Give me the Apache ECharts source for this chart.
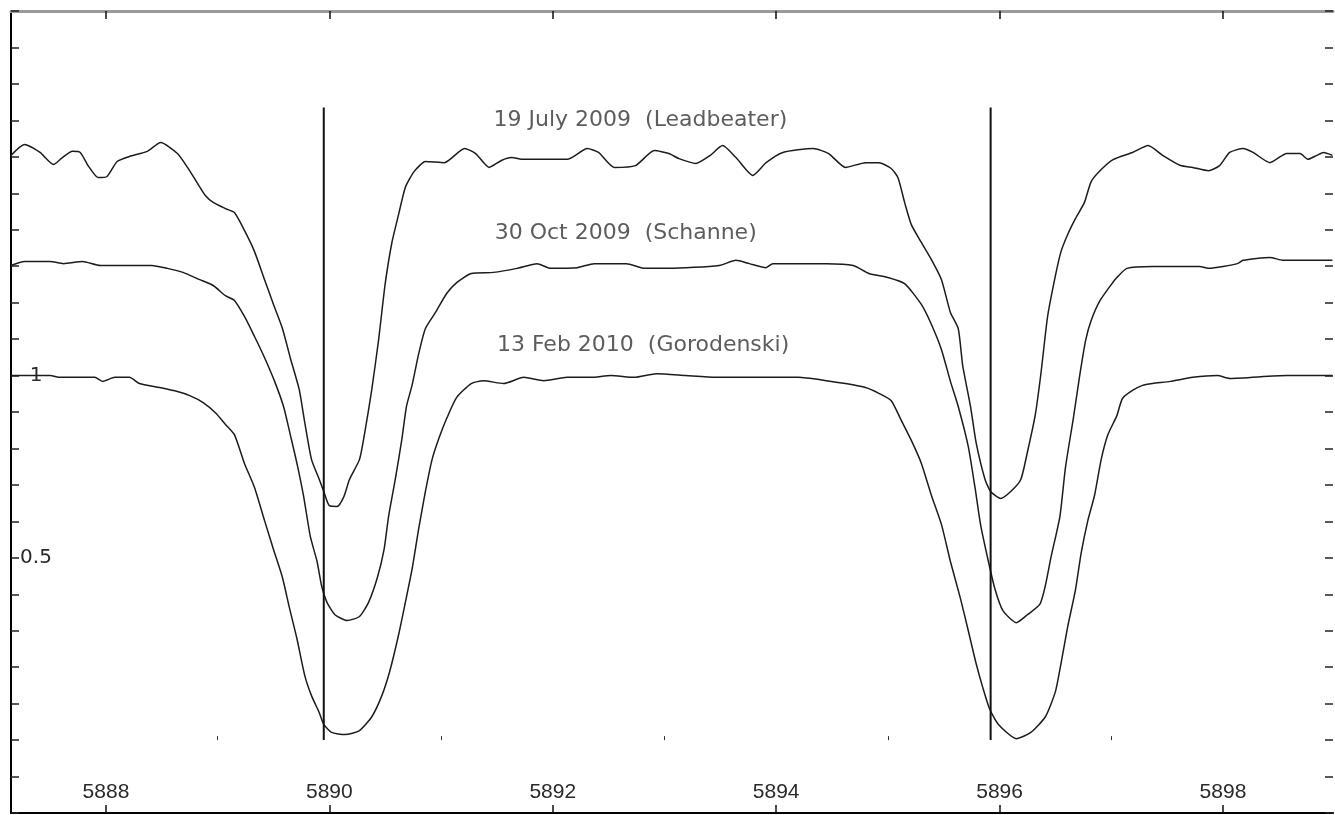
<!DOCTYPE html>
<html>
<head>
<meta charset="utf-8">
<script src="https://cdn.jsdelivr.net/npm/echarts@6/dist/echarts.min.js"></script>
<style>
  html, body { margin: 0; padding: 0; background: #ffffff; }
  #chart { width: 1335px; height: 815px; }
</style>
</head>
<body>
<div id="chart"></div>
<script>
// Sodium D doublet profiles at three epochs (relative flux, stacked 0.3 apart)

// 19 July 2009 (Leadbeater)
const leadWl = [5887.15,5887.27,5887.41,5887.53,5887.61,5887.70,5887.77,5887.84,5887.93,5888.01,
  5888.10,5888.21,5888.37,5888.49,5888.64,5888.73,5888.81,5888.89,5888.96,5889.07,
  5889.15,5889.24,5889.33,5889.42,5889.50,5889.58,5889.65,5889.73,5889.78,5889.84,
  5889.91,5889.95,5890.00,5890.07,5890.13,5890.18,5890.27,5890.32,5890.38,5890.44,
  5890.50,5890.56,5890.62,5890.68,5890.76,5890.86,5891.03,5891.21,5891.31,5891.43,
  5891.54,5891.63,5891.74,5892.13,5892.31,5892.41,5892.55,5892.74,5892.91,5893.04,
  5893.13,5893.28,5893.41,5893.52,5893.64,5893.79,5893.91,5894.06,5894.33,5894.47,
  5894.62,5894.80,5894.92,5895.03,5895.09,5895.15,5895.21,5895.30,5895.39,5895.48,
  5895.56,5895.63,5895.67,5895.74,5895.79,5895.87,5895.92,5896.01,5896.10,5896.19,
  5896.25,5896.32,5896.37,5896.43,5896.50,5896.55,5896.61,5896.68,5896.76,5896.82,
  5896.91,5897.02,5897.19,5897.33,5897.46,5897.62,5897.73,5897.87,5897.97,5898.06,
  5898.18,5898.27,5898.42,5898.57,5898.69,5898.76,5898.84,5898.90,5898.98];
const leadFlux = [1.604,1.634,1.612,1.579,1.598,1.615,1.612,1.576,1.543,1.546,
  1.587,1.601,1.615,1.639,1.609,1.571,1.532,1.494,1.475,1.458,
  1.447,1.398,1.340,1.263,1.195,1.129,1.049,0.962,0.871,0.770,
  0.715,0.682,0.643,0.641,0.668,0.715,0.770,0.849,0.962,1.096,
  1.252,1.365,1.442,1.516,1.560,1.587,1.584,1.623,1.609,1.571,
  1.590,1.598,1.593,1.593,1.623,1.612,1.571,1.576,1.617,1.609,
  1.595,1.582,1.604,1.631,1.598,1.549,1.584,1.612,1.623,1.609,
  1.571,1.584,1.584,1.568,1.543,1.475,1.414,1.365,1.318,1.263,
  1.173,1.129,1.027,0.915,0.816,0.715,0.682,0.663,0.682,0.715,
  0.791,0.893,1.005,1.162,1.274,1.340,1.387,1.431,1.475,1.532,
  1.565,1.593,1.612,1.631,1.604,1.576,1.571,1.562,1.576,1.612,
  1.623,1.612,1.584,1.609,1.609,1.593,1.604,1.612,1.604];

// 30 Oct 2009 (Schanne)
const schWl = [5887.15,5887.27,5887.50,5887.62,5887.79,5887.95,5888.41,5888.55,5888.69,5888.84,
  5888.96,5889.07,5889.15,5889.24,5889.33,5889.42,5889.51,5889.59,5889.65,5889.71,
  5889.77,5889.83,5889.89,5889.93,5889.98,5890.05,5890.16,5890.27,5890.35,5890.43,
  5890.49,5890.53,5890.59,5890.65,5890.69,5890.74,5890.80,5890.86,5890.95,5891.05,
  5891.14,5891.27,5891.47,5891.68,5891.86,5891.98,5892.22,5892.37,5892.66,5892.82,
  5893.04,5893.49,5893.64,5893.76,5893.91,5893.97,5894.45,5894.69,5894.83,5895.00,
  5895.15,5895.30,5895.39,5895.48,5895.56,5895.63,5895.72,5895.78,5895.83,5895.90,
  5895.96,5896.03,5896.15,5896.25,5896.36,5896.41,5896.46,5896.54,5896.59,5896.66,
  5896.72,5896.77,5896.82,5896.90,5897.02,5897.05,5897.14,5897.37,5897.79,5897.88,
  5898.00,5898.13,5898.18,5898.42,5898.54,5898.98];
const schFlux = [1.302,1.313,1.313,1.307,1.313,1.302,1.302,1.294,1.283,1.263,
  1.247,1.219,1.206,1.162,1.107,1.049,0.984,0.915,0.838,0.759,
  0.668,0.558,0.490,0.424,0.377,0.344,0.328,0.339,0.377,0.446,
  0.523,0.613,0.715,0.827,0.915,0.973,1.060,1.129,1.173,1.225,
  1.255,1.280,1.283,1.294,1.307,1.294,1.296,1.307,1.307,1.294,
  1.294,1.302,1.316,1.307,1.296,1.307,1.307,1.302,1.280,1.269,
  1.252,1.195,1.140,1.071,0.984,0.915,0.805,0.693,0.591,0.490,
  0.413,0.355,0.322,0.344,0.372,0.424,0.501,0.613,0.748,0.882,
  1.005,1.096,1.151,1.206,1.258,1.269,1.294,1.299,1.299,1.294,
  1.299,1.307,1.316,1.324,1.316,1.316];

// 13 Feb 2010 (Gorodenski)
const gorWl = [5887.15,5887.50,5887.59,5887.90,5887.97,5888.08,5888.21,5888.30,5888.48,5888.64,
  5888.75,5888.87,5888.98,5889.07,5889.15,5889.24,5889.33,5889.42,5889.50,5889.58,
  5889.64,5889.71,5889.78,5889.84,5889.91,5889.95,5890.02,5890.14,5890.27,5890.38,
  5890.47,5890.54,5890.62,5890.68,5890.74,5890.80,5890.86,5890.92,5890.98,5891.05,
  5891.14,5891.27,5891.38,5891.56,5891.74,5891.92,5892.13,5892.34,5892.52,5892.73,
  5892.93,5893.19,5893.46,5894.20,5894.45,5894.62,5894.80,5894.92,5895.03,5895.12,
  5895.21,5895.30,5895.39,5895.48,5895.56,5895.65,5895.72,5895.79,5895.85,5895.91,
  5895.99,5896.15,5896.28,5896.41,5896.50,5896.55,5896.61,5896.68,5896.73,5896.79,
  5896.85,5896.91,5896.97,5897.05,5897.10,5897.19,5897.28,5897.37,5897.53,5897.73,
  5897.95,5898.06,5898.57,5898.98];
const gorFlux = [1.000,1.000,0.995,0.995,0.984,0.995,0.995,0.978,0.967,0.956,
  0.945,0.926,0.898,0.866,0.838,0.759,0.693,0.602,0.523,0.446,
  0.366,0.278,0.177,0.122,0.075,0.043,0.021,0.015,0.026,0.064,
  0.122,0.188,0.289,0.377,0.468,0.580,0.682,0.770,0.827,0.882,
  0.940,0.978,0.986,0.978,0.995,0.986,0.995,0.995,1.000,0.995,
  1.005,1.000,0.995,0.995,0.986,0.978,0.967,0.951,0.931,0.877,
  0.822,0.759,0.671,0.591,0.490,0.388,0.300,0.210,0.144,0.086,
  0.043,0.004,0.021,0.064,0.133,0.210,0.311,0.413,0.512,0.602,
  0.671,0.770,0.838,0.890,0.937,0.959,0.973,0.978,0.984,0.995,
  1.000,0.992,1.000,1.000];

// Rest wavelengths of Na D2 and D1 and the flux span of their markers
const naDLines = [5889.95, 5895.92];
const naDLineSpan = [0.0, 1.735];

// Epoch captions, anchored at their left edge
const epochLabels = ['19 July 2009  (Leadbeater)', '30 Oct 2009  (Schanne)', '13 Feb 2010  (Gorodenski)'];
const epochLabelWl = [5891.47, 5891.48, 5891.50];
const epochLabelFlux = [1.699, 1.390, 1.082];

// Axis ticks and labels
const xMajorTicks = [5888, 5890, 5892, 5894, 5896, 5898];
const xMinorTicks = [5889, 5891, 5893, 5895, 5897];
const yLabelled = [1, 0.5];
const xRange = [5887.15, 5898.985];
const yRange = [-0.2, 2.0];

const zip = (xs, ys) => xs.map((x, i) => [x, ys[i]]);

const spectra = [
  { name: 'Leadbeater', data: zip(leadWl, leadFlux) },
  { name: 'Schanne', data: zip(schWl, schFlux) },
  { name: 'Gorodenski', data: zip(gorWl, gorFlux) }
];

const chart = echarts.init(document.getElementById('chart'), null, { renderer: 'canvas' });

const baseX = {
  type: 'value', min: xRange[0], max: xRange[1],
  splitLine: { show: false }
};

const series = [];
spectra.forEach(s => {
  series.push({
    name: s.name, type: 'line', data: s.data,
    xAxisIndex: 0, yAxisIndex: 0,
    showSymbol: false, symbol: 'none', smooth: 0.2,
    lineStyle: { color: '#1c1c1c', width: 1.5 },
    silent: true, z: 3
  });
});
naDLines.forEach(wl => {
  series.push({
    type: 'line', data: [[wl, naDLineSpan[0]], [wl, naDLineSpan[1]]],
    xAxisIndex: 0, yAxisIndex: 0,
    symbol: 'none', lineStyle: { color: '#111111', width: 2 },
    silent: true, z: 4
  });
});
series.push({
  type: 'scatter', xAxisIndex: 0, yAxisIndex: 0,
  symbolSize: 0, silent: true, z: 5,
  data: epochLabels.map((t, i) => [epochLabelWl[i], epochLabelFlux[i], t]),
  label: {
    show: true, position: [0, 0], align: 'left', verticalAlign: 'middle',
    formatter: p => p.data[2],
    fontFamily: 'DejaVu Sans', fontSize: 22, color: '#333333'
  }
});

chart.setOption({
  animation: false,
  backgroundColor: '#ffffff',
  grid: { left: 11, right: 2, top: 11, bottom: 2, containLabel: false },
  xAxis: [
    Object.assign({}, baseX, {
      position: 'bottom',
      axisLine: { show: true, onZero: false, lineStyle: { color: '#000000', width: 2 } },
      axisTick: { show: true, inside: true, length: 8, customValues: xMajorTicks,
        lineStyle: { color: '#111111', width: 1.5 } },
      axisLabel: { show: true, inside: true, margin: 10, customValues: xMajorTicks,
        formatter: v => String(Math.round(v)),
        fontFamily: 'Liberation Sans', fontSize: 21, color: '#2a2a2a' }
    }),
    Object.assign({}, baseX, {
      position: 'bottom',
      axisLine: { show: false },
      axisTick: { show: true, inside: true, length: 4, customValues: xMinorTicks,
        lineStyle: { color: '#333333', width: 1 } },
      axisLabel: { show: false }
    }),
    Object.assign({}, baseX, {
      position: 'top',
      axisLine: { show: true, onZero: false, lineStyle: { color: '#9a9a9a', width: 3 } },
      axisTick: { show: true, inside: true, length: 8, customValues: xMajorTicks,
        lineStyle: { color: '#111111', width: 1.5 } },
      axisLabel: { show: false }
    })
  ],
  yAxis: [
    {
      type: 'value', position: 'left', min: yRange[0], max: yRange[1], interval: 0.1,
      axisLine: { show: true, onZero: false, lineStyle: { color: '#000000', width: 2 } },
      axisTick: { show: true, inside: true, length: 8, lineStyle: { color: '#222222', width: 1.5 } },
      axisLabel: {
        show: true, inside: true, margin: 25, align: 'center', verticalAlign: 'middle',
        showMinLabel: true, showMaxLabel: true,
        formatter: v => {
          const hit = yLabelled.find(t => Math.abs(t - v) < 1e-6);
          return hit === undefined ? '' : String(hit);
        },
        fontFamily: 'DejaVu Sans', fontSize: 20, color: '#2a2a2a'
      },
      splitLine: { show: false }
    },
    {
      type: 'value', position: 'right', min: yRange[0], max: yRange[1], interval: 0.1,
      axisLine: { show: false },
      axisTick: { show: true, inside: true, length: 8, lineStyle: { color: '#222222', width: 1.5 } },
      axisLabel: { show: false },
      splitLine: { show: false }
    }
  ],
  series: series
});
</script>
</body>
</html>
